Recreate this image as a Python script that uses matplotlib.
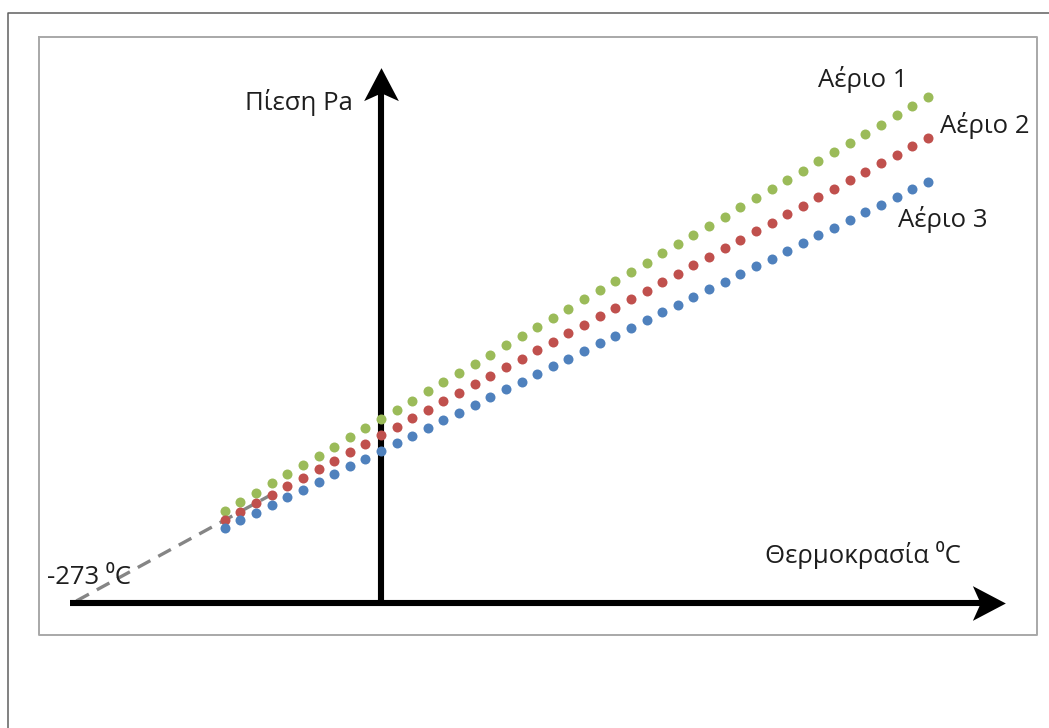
import matplotlib
matplotlib.use("Agg")
import matplotlib.pyplot as plt
from matplotlib.lines import Line2D
from matplotlib.path import Path

# ---------------- data ----------------
temps = [-140, -126, -112, -98, -84, -70, -56, -42, -28, -14,
         0, 14, 28, 42, 56, 70, 84, 98, 112, 126,
         140, 154, 168, 182, 196, 210, 224, 238, 252, 266,
         280, 294, 308, 322, 336, 350, 364, 378, 392, 406,
         420, 434, 448, 462, 476, 490]

gas1 = [92.0, 101.2, 110.4, 119.6, 128.8, 138.0, 147.2, 156.4, 165.6, 174.8,
        184.0, 193.2, 202.4, 211.6, 220.8, 230.0, 239.2, 248.4, 257.6, 266.8,
        276.0, 285.2, 294.4, 303.6, 312.8, 322.0, 331.2, 340.4, 349.6, 358.8,
        368.0, 377.2, 386.4, 395.6, 404.8, 414.0, 423.2, 432.4, 441.6, 450.8,
        460.0, 469.2, 478.4, 487.6, 496.8, 506.0]

gas2 = [83.0, 91.5, 100.0, 108.5, 117.0, 125.5, 134.0, 142.5, 151.0, 159.5,
        168.0, 176.5, 185.0, 193.5, 202.0, 210.5, 219.0, 227.5, 236.0, 244.5,
        253.0, 261.5, 270.0, 278.5, 287.0, 295.5, 304.0, 312.5, 321.0, 329.5,
        338.0, 346.5, 355.0, 363.5, 372.0, 380.5, 389.0, 397.5, 406.0, 414.5,
        423.0, 431.5, 440.0, 448.5, 457.0, 465.5]

gas3 = [75.0, 82.7, 90.4, 98.1, 105.8, 113.5, 121.2, 128.9, 136.6, 144.3,
        152.0, 159.7, 167.4, 175.1, 182.8, 190.5, 198.2, 205.9, 213.6, 221.3,
        229.0, 236.7, 244.4, 252.1, 259.8, 267.5, 275.2, 282.9, 290.6, 298.3,
        306.0, 313.7, 321.4, 329.1, 336.8, 344.5, 352.2, 359.9, 367.6, 375.3,
        383.0, 390.7, 398.4, 406.1, 413.8, 421.5]

extrap_t = [-273, -98]
extrap_p = [2.0, 108.5]

series_labels = ["Αέριο 1", "Αέριο 2", "Αέριο 3"]
series_colors = ["#9BBB59", "#C0504D", "#4F81BD"]
x_label = "Θερμοκρασία ⁰C"
y_label = "Πίεση Pa"
zero_label = "-273 ⁰C"

# ---------------- figure ----------------
W, H = 1049, 728
fig = plt.figure(figsize=(W / 100, H / 100), dpi=100)
fig.patch.set_facecolor("white")

PX_PER_C = 1.116
X0_PX = 381.0
Y0_PX = 603.0
ax = fig.add_axes([0, 0, 1, 1])
ax.set_xlim(-X0_PX / PX_PER_C, (W - X0_PX) / PX_PER_C)
ax.set_ylim(-(H - Y0_PX), Y0_PX)
ax.axis("off")

def fx(px):
    return px / W

def fy(py):
    return 1 - py / H

# outer frame (partially visible)
fig.add_artist(Line2D([fx(8), fx(8), fx(W + 5)], [fy(H + 5), fy(13), fy(13)],
                      color="#5f5f5f", lw=1.1, transform=fig.transFigure))
# inner chart frame
fig.add_artist(Line2D([fx(39), fx(1037), fx(1037), fx(39), fx(39)],
                      [fy(37), fy(37), fy(635), fy(635), fy(37)],
                      color="#a8a8a8", lw=1.4, transform=fig.transFigure))

# extrapolation dashed line
ax.plot(extrap_t, extrap_p, color="#858585", lw=2.4, dashes=(4.3, 2.7),
        dash_capstyle="butt", zorder=2)

# axes (shaft + stealth arrow head)
x_start, x_tip = -279, 559
y_start, y_tip = -3, 535
head_px = 33.0
stealth_right = Path([(1, 0), (-0.9, 1), (-0.45, 0), (-0.9, -1), (1, 0)],
                     [Path.MOVETO, Path.LINETO, Path.LINETO, Path.LINETO, Path.CLOSEPOLY])
stealth_up = Path([(0, 1), (1, -0.9), (0, -0.45), (-1, -0.9), (0, 1)],
                  [Path.MOVETO, Path.LINETO, Path.LINETO, Path.LINETO, Path.CLOSEPOLY])
hx = head_px / PX_PER_C
ax.plot([x_start, x_tip - hx * 0.7], [0, 0], color="black", lw=4.4,
        solid_capstyle="butt", zorder=4)
ax.plot([x_tip - hx / 2], [0], marker=stealth_right, markersize=25,
        color="black", markeredgewidth=0, zorder=4)
ax.plot([0, 0], [y_start, y_tip - head_px * 0.7], color="black", lw=4.4,
        solid_capstyle="butt", zorder=4)
ax.plot([0], [y_tip - head_px / 2], marker=stealth_up, markersize=25,
        color="black", markeredgewidth=0, zorder=4)

# series dots
for vals, col in zip([gas1, gas2, gas3], series_colors):
    ax.plot(temps, vals, linestyle="none", marker="o", markersize=7.2,
            markerfacecolor=col, markeredgewidth=0, zorder=5)

# texts
font = ["Open Sans", "DejaVu Sans"]
tc = "#1e1e1e"
fs = 18.5
fig.text(fx(245), fy(110), y_label, family=font, fontsize=fs, color=tc, va="baseline")
fig.text(fx(818), fy(87), series_labels[0], family=font, fontsize=fs, color=tc, va="baseline")
fig.text(fx(940), fy(133), series_labels[1], family=font, fontsize=fs, color=tc, va="baseline")
fig.text(fx(898), fy(227), series_labels[2], family=font, fontsize=fs, color=tc, va="baseline")
fig.text(fx(765), fy(563), x_label, family=font, fontsize=fs, color=tc, va="baseline")
fig.text(fx(47), fy(584), zero_label, family=font, fontsize=fs, color=tc, va="baseline")

fig.savefig("out.png", dpi=100, facecolor="white")
